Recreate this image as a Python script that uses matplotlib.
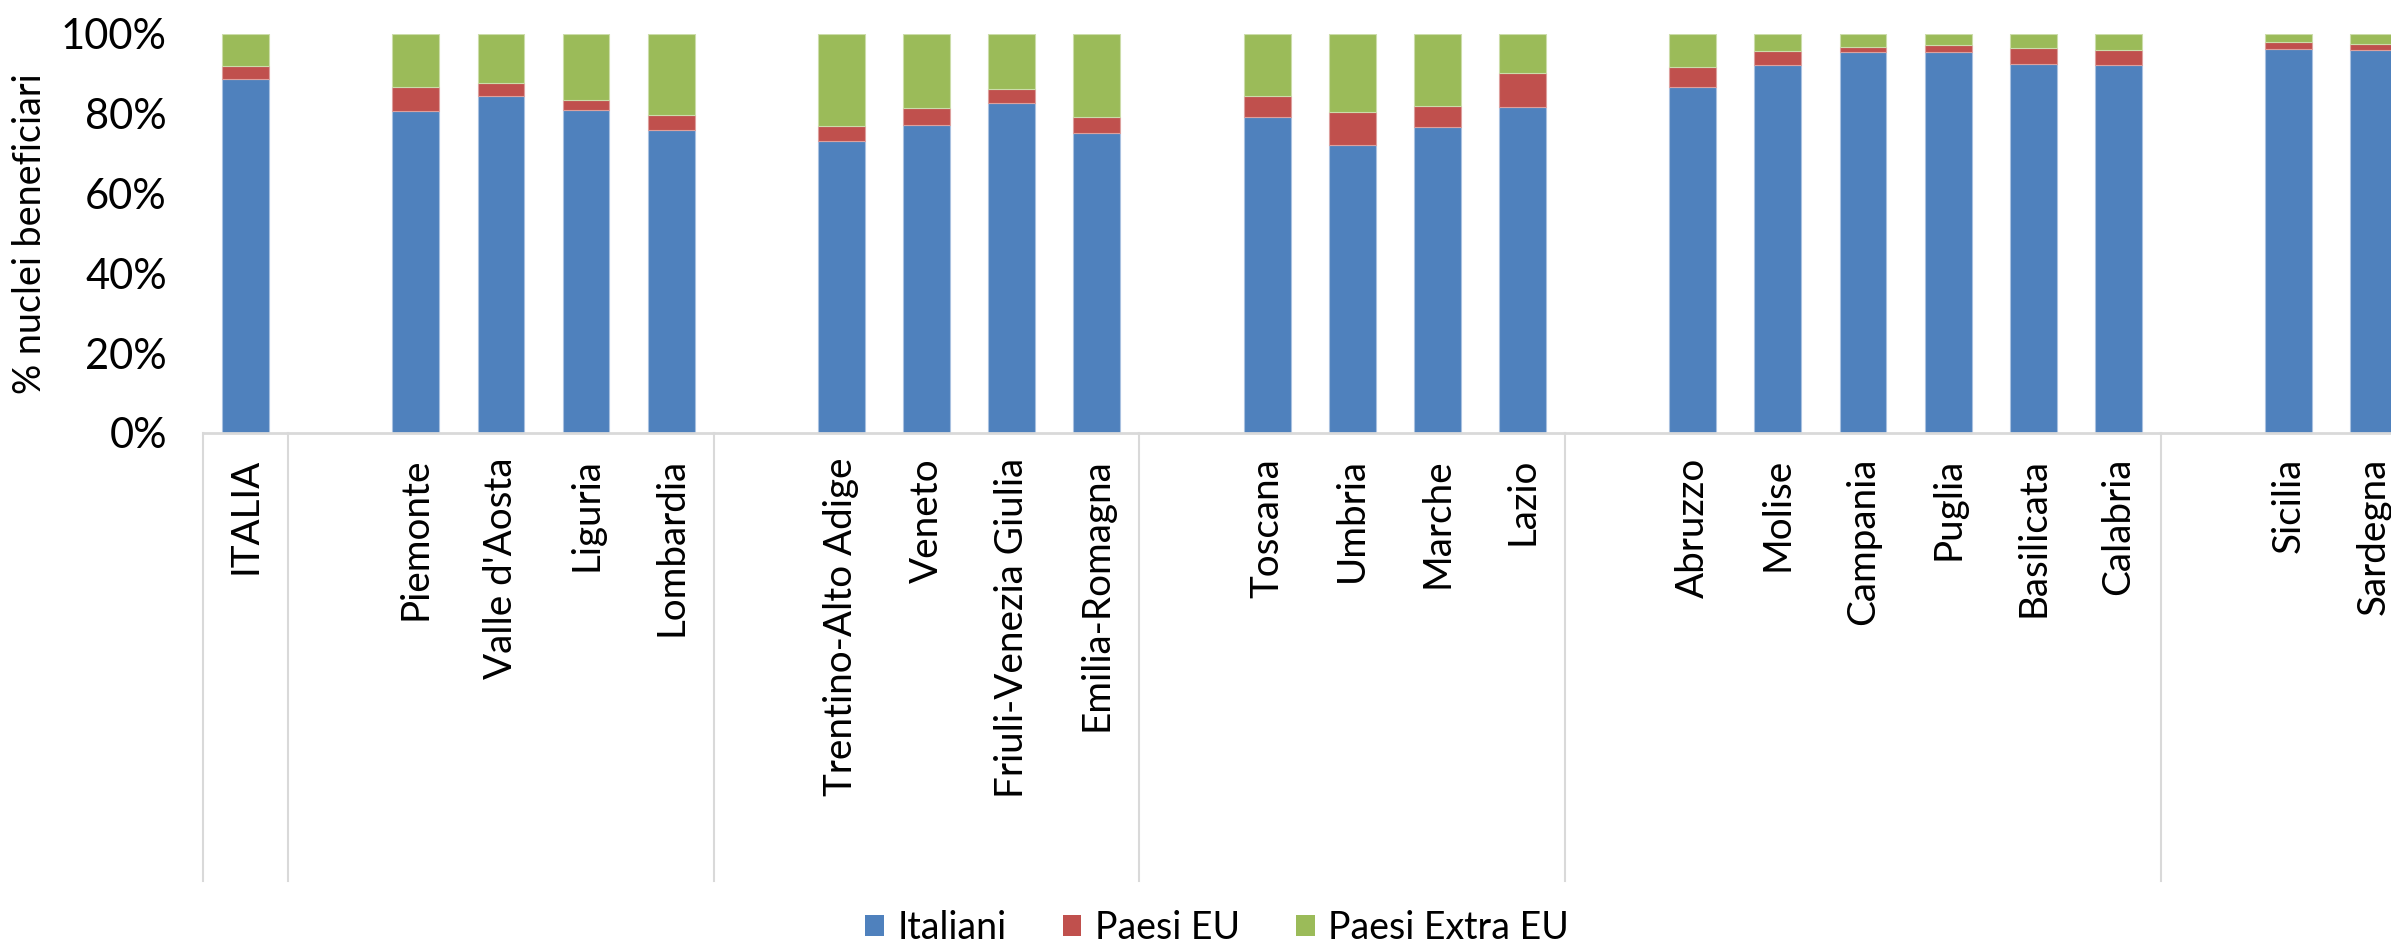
import numpy as np
import matplotlib
matplotlib.use("Agg")
import matplotlib.pyplot as plt
import matplotlib.transforms as mtransforms
from matplotlib.patches import Patch

plt.rcParams['font.family'] = ['Lato', 'DejaVu Sans']

regions = ["ITALIA",
           "Piemonte", "Valle d'Aosta", "Liguria", "Lombardia",
           "Trentino-Alto Adige", "Veneto", "Friuli-Venezia Giulia", "Emilia-Romagna",
           "Toscana", "Umbria", "Marche", "Lazio",
           "Abruzzo", "Molise", "Campania", "Puglia", "Basilicata", "Calabria",
           "Sicilia", "Sardegna"]
group_sizes = [1, 4, 4, 4, 6, 2]

italiani = [88.5,
            80.7, 84.4, 80.9, 75.9,
            73.1, 77.1, 82.5, 75.2,
            79.0, 72.1, 76.6, 81.7,
            86.5, 92.1, 95.3, 95.3, 92.3, 92.1,
            96.2, 96.0]
paesi_eu = [3.3,
            6.0, 3.3, 2.5, 3.8,
            3.7, 4.2, 3.7, 3.9,
            5.4, 8.3, 5.2, 8.5,
            5.2, 3.6, 1.4, 1.9, 4.2, 3.9,
            1.7, 1.3]
extra_eu = [100 - a - b for a, b in zip(italiani, paesi_eu)]

series_names = ["Italiani", "Paesi EU", "Paesi Extra EU"]
colors = ["#4F81BD", "#C0504D", "#9BBB59"]

# positions: one blank slot before every group after the first
positions = []
separators = [-0.5]
pos = 0
for gi, n in enumerate(group_sizes):
    if gi > 0:
        separators.append(pos - 0.5)
        pos += 1
    for _ in range(n):
        positions.append(pos)
        pos += 1
positions = np.array(positions, dtype=float)

fig = plt.figure(figsize=(23.91, 9.47), dpi=100)
ax = fig.add_axes([0.0849, 0.5428, 1.0 - 0.0849 + 0.001, 0.4218])

it = np.array(italiani) / 100
eu = np.array(paesi_eu) / 100
ex = np.array(extra_eu) / 100
bw = 0.55
ax.bar(positions, it, bw, color=colors[0], edgecolor="#A9C1E0", linewidth=0.8, zorder=2)
ax.bar(positions, eu, bw, bottom=it, color=colors[1], edgecolor="#DDA09E", linewidth=0.8, zorder=2)
ax.bar(positions, ex, bw, bottom=it + eu, color=colors[2], edgecolor="#CCDDAA", linewidth=0.8, zorder=2)

ax.set_ylim(0, 1)
ax.set_xlim(-0.5, 25.23)
ax.set_yticks(np.arange(0, 1.01, 0.2))
ax.set_yticklabels([f"{int(v*100)}%" for v in np.arange(0, 1.01, 0.2)], fontsize=30)
ax.tick_params(axis='y', length=0, pad=26)
ax.set_xticks(positions)
ax.set_xticklabels(regions, rotation=90, fontsize=27.8, va='top', ha='center')
ax.tick_params(axis='x', length=0, pad=18)
ax.set_ylabel("% nuclei beneficiari", fontsize=27.2, labelpad=9)

for s in ['top', 'right', 'left']:
    ax.spines[s].set_visible(False)
ax.spines['bottom'].set_color('#D9D9D9')
ax.spines['bottom'].set_linewidth(2)

trans = mtransforms.blended_transform_factory(ax.transData, ax.transAxes)
for sx in separators:
    ax.plot([sx, sx], [0, -1.122], transform=trans, color='#D9D9D9', lw=1.5, clip_on=False, zorder=1)

handles = [Patch(facecolor=c, edgecolor='none') for c in colors]
fig.legend(handles, series_names, loc='center', bbox_to_anchor=(0.509, 0.02),
           ncol=3, frameon=False, fontsize=27, handlelength=0.5, handleheight=0.5,
           handletextpad=0.35, columnspacing=1.5)

fig.savefig("out.png", dpi=100)
